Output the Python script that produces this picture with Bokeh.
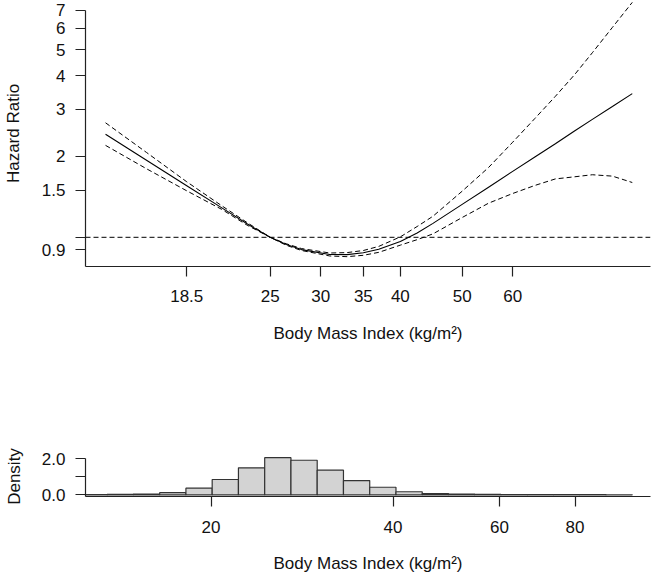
import math
from bokeh.plotting import figure
from bokeh.layouts import column
from bokeh.models import Range1d, FixedTicker, Span
from bokeh.embed import file_html
from bokeh.resources import INLINE

# ---- data: spline curve (hazard ratio vs BMI) ----
bmi = [13.8, 16, 18.5, 21, 23, 25, 26.5, 28, 31, 33, 35, 37, 40, 42.5, 45, 50, 55, 60, 65, 70, 75, 80, 86, 92.4]
hr = [2.42, 1.935, 1.556, 1.287, 1.123, 1.00, 0.940, 0.900, 0.863, 0.862, 0.876, 0.902, 0.965, 1.037, 1.127, 1.326, 1.537, 1.76, 1.99, 2.23, 2.49, 2.75, 3.07, 3.43]
hr_upper = [2.67, 2.07, 1.61, 1.31, 1.135, 1.00, 0.946, 0.908, 0.874, 0.877, 0.893, 0.925, 1.004, 1.097, 1.198, 1.485, 1.82, 2.26, 2.77, 3.35, 4.03, 4.87, 6.05, 7.5]
hr_lower = [2.20, 1.80, 1.49, 1.27, 1.11, 1.00, 0.934, 0.893, 0.852, 0.847, 0.857, 0.879, 0.935, 0.98, 1.03, 1.185, 1.34, 1.456, 1.56, 1.65, 1.68, 1.71, 1.69, 1.60]
ref_hr = 1.0

bmi_ticks_top = [18.5, 25, 30, 35, 40, 50, 60]
bmi_tick_labels_top = ["18.5", "25", "30", "35", "40", "50", "60"]
hr_ticks = [0.9, 1, 1.5, 2, 3, 4, 5, 6, 7]
hr_tick_labels = ["0.9", "", "1.5", "2", "3", "4", "5", "6", "7"]

# ---- data: histogram of BMI (bins of 0.1 on log scale) ----
log_bmi_edges = [2.5, 2.6, 2.7, 2.8, 2.9, 3.0, 3.1, 3.2, 3.3, 3.4, 3.5, 3.6, 3.7,
                 3.8, 3.9, 4.0, 4.1, 4.2, 4.3, 4.4, 4.5, 4.6]
density = [0.01, 0.02, 0.04, 0.12, 0.37, 0.85, 1.50, 2.06, 1.92, 1.37, 0.79, 0.42,
           0.17, 0.07, 0.035, 0.02, 0.012, 0.008, 0.006, 0.005, 0.004]
bmi_ticks_bottom = [20, 40, 60, 80]
bmi_tick_labels_bottom = ["20", "40", "60", "80"]
density_ticks = [0, 1, 2]
density_tick_labels = ["0.0", "", "2.0"]

FONT = "Liberation Sans"
FS = "17px"
AX = "#222222"
TXT = "#111111"


def style_axis(ax, label, label_standoff, tick_standoff):
    ax.axis_label = label
    ax.axis_label_text_font = FONT
    ax.axis_label_text_font_size = FS
    ax.axis_label_text_font_style = "normal"
    ax.axis_label_text_color = TXT
    ax.axis_label_standoff = label_standoff
    ax.major_label_text_font = FONT
    ax.major_label_text_font_size = FS
    ax.major_label_text_color = TXT
    ax.major_label_standoff = tick_standoff
    ax.axis_line_color = AX
    ax.axis_line_width = 1.2
    ax.major_tick_line_color = AX
    ax.major_tick_line_width = 1.2
    ax.major_tick_out = 10
    ax.major_tick_in = 0
    ax.minor_tick_line_color = None


def base_fig(height, x_range, y_range, y_type, top, bottom):
    p = figure(width=654, height=height, x_axis_type="log", y_axis_type=y_type,
               x_range=x_range, y_range=y_range, output_backend="svg",
               toolbar_location=None, min_border_left=80, min_border_right=4,
               min_border_top=top, min_border_bottom=bottom)
    p.outline_line_color = None
    p.xgrid.visible = False
    p.ygrid.visible = False
    p.background_fill_color = "white"
    p.border_fill_color = "white"
    return p


# ---- top panel ----
p1 = base_fig(370, Range1d(12.837, 98.68), Range1d(0.7785, 7.621), "log", 0, 104)
p1.line(bmi, hr, line_color="black", line_width=1.1)
p1.line(bmi, hr_upper, line_color="black", line_width=1.0, line_dash="5 3")
p1.line(bmi, hr_lower, line_color="black", line_width=1.0, line_dash="5 3")
p1.add_layout(Span(location=ref_hr, dimension="width", line_color="black",
                   line_width=1.0, line_dash="5 3"))

style_axis(p1.xaxis[0], "Body Mass Index (kg/m²)", 19, 13)
p1.xaxis[0].ticker = FixedTicker(ticks=bmi_ticks_top)
p1.xaxis[0].major_label_overrides = dict(zip(bmi_ticks_top, bmi_tick_labels_top))
style_axis(p1.yaxis[0], "Hazard Ratio", 16, 10)
p1.yaxis[0].ticker = FixedTicker(ticks=hr_ticks)
p1.yaxis[0].major_label_overrides = dict(zip(hr_ticks, hr_tick_labels))
p1.yaxis[0].bounds = (0.7785, 7)

# ---- bottom panel ----
p2 = base_fig(207, Range1d(12.398, 106.63), Range1d(-0.094, 2.128), "linear", 86, 81)
lefts = [math.exp(e) for e in log_bmi_edges[:-1]]
rights = [math.exp(e) for e in log_bmi_edges[1:]]
p2.quad(left=lefts, right=rights, bottom=0, top=density,
        fill_color="#D3D3D3", line_color="#333333", line_width=1.2)

style_axis(p2.xaxis[0], "Body Mass Index (kg/m²)", 18, 14)
p2.xaxis[0].ticker = FixedTicker(ticks=bmi_ticks_bottom)
p2.xaxis[0].major_label_overrides = dict(zip(bmi_ticks_bottom, bmi_tick_labels_bottom))
style_axis(p2.yaxis[0], "Density", 15, 10)
p2.yaxis[0].ticker = FixedTicker(ticks=density_ticks)
p2.yaxis[0].major_label_overrides = dict(zip(density_ticks, density_tick_labels))
p2.yaxis[0].bounds = (-0.094, 2.0)

layout = column(p1, p2)
open("out.html", "w").write(file_html(layout, INLINE))
